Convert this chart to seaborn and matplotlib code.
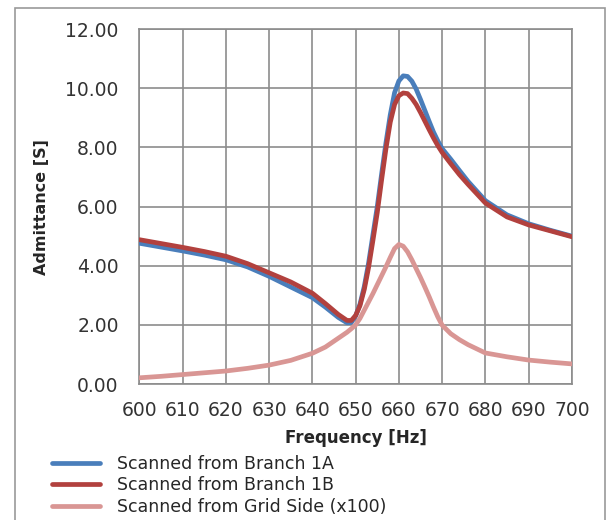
import numpy as np
import pandas as pd
import matplotlib
matplotlib.use("Agg")
import matplotlib.pyplot as plt
from matplotlib.patches import Rectangle
import seaborn as sns

# Frequency sweep [Hz]
freq = [600, 605, 610, 615, 620, 625, 630, 635, 640, 643, 646, 648, 649, 650,
        651, 652, 653, 654, 655, 656, 657, 658, 659, 660, 661, 662, 663, 664,
        665, 666, 667, 668, 669, 670, 672, 674, 676, 680, 685, 690, 695, 700]

# Admittance [S]
branch_1a = [4.76, 4.63, 4.50, 4.36, 4.20, 3.96, 3.64, 3.28, 2.92, 2.60, 2.25, 2.07, 2.08, 2.30,
             2.70, 3.30, 4.10, 5.05, 6.00, 7.10, 8.15, 9.10, 9.85, 10.25, 10.42, 10.40, 10.24, 9.97,
             9.62, 9.25, 8.88, 8.52, 8.22, 7.96, 7.60, 7.22, 6.85, 6.20, 5.72, 5.42, 5.20, 5.00]
branch_1b = [4.88, 4.75, 4.62, 4.48, 4.32, 4.07, 3.76, 3.45, 3.07, 2.72, 2.35, 2.15, 2.15, 2.32,
             2.65, 3.20, 3.95, 4.86, 5.80, 6.90, 7.95, 8.85, 9.45, 9.75, 9.84, 9.82, 9.66, 9.45,
             9.18, 8.89, 8.60, 8.32, 8.06, 7.83, 7.45, 7.08, 6.75, 6.12, 5.65, 5.38, 5.18, 4.98]
grid_side = [0.21, 0.26, 0.32, 0.38, 0.44, 0.53, 0.64, 0.80, 1.04, 1.25, 1.55, 1.75, 1.87, 2.00,
             2.22, 2.50, 2.78, 3.06, 3.36, 3.66, 3.96, 4.28, 4.58, 4.72, 4.66, 4.47, 4.20, 3.90,
             3.60, 3.28, 2.95, 2.60, 2.27, 1.99, 1.70, 1.50, 1.33, 1.05, 0.92, 0.81, 0.74, 0.68]

labels = ["Scanned from Branch 1A", "Scanned from Branch 1B", "Scanned from Grid Side (x100)"]
colors = ["#4a7ebb", "#b2413e", "#d99694"]

df = pd.DataFrame({"Frequency": freq, labels[0]: branch_1a,
                   labels[1]: branch_1b, labels[2]: grid_side})
long_df = df.melt(id_vars="Frequency", var_name="Series", value_name="Admittance")

sns.set_style("white")
plt.rcParams["font.family"] = ["DejaVu Sans"]

fig = plt.figure(figsize=(6.09, 5.20), dpi=100)
ax = fig.add_axes([0.229, 0.2615, 0.710, 0.6825])

sns.lineplot(data=long_df, x="Frequency", y="Admittance", hue="Series",
             hue_order=labels, palette=colors, linewidth=3.4, ax=ax,
             legend=False, zorder=3, solid_joinstyle="round", solid_capstyle="round")

ax.set_xlim(600, 700)
ax.set_ylim(0, 12)
ax.set_xticks(np.arange(600, 701, 10))
ax.set_yticks(np.arange(0, 12.1, 2))
ax.set_yticklabels([f"{v:.2f}" for v in np.arange(0, 12.1, 2)])
ax.tick_params(axis="x", length=0, pad=12, labelsize=13.5, colors="#333333")
ax.tick_params(axis="y", length=0, pad=15, labelsize=13.5, colors="#333333")
ax.grid(True, color="#8c8c8c", linewidth=1.2, zorder=0)
for sp in ax.spines.values():
    sp.set_color("#8c8c8c")
    sp.set_linewidth(1.2)

ax.set_xlabel("Frequency [Hz]", fontsize=12, fontweight="bold", labelpad=7)
ax.set_ylabel("Admittance [S]", fontsize=11.5, fontweight="bold", labelpad=12)

handles = [plt.Line2D([], [], color=c, linewidth=3.4) for c in colors]
fig.legend(handles, labels, loc="upper left", bbox_to_anchor=(0.085, 0.125),
           frameon=False, fontsize=12.5, handlelength=2.75, handletextpad=1.0,
           labelspacing=0.2, borderaxespad=0, borderpad=0)

fig.patches.append(Rectangle((15 / 609, -0.1), 590 / 609, 1.1 - 8 / 520,
                             transform=fig.transFigure, fill=False,
                             edgecolor="#9a9a9a", linewidth=1.2))

fig.savefig("out.png", dpi=100)
